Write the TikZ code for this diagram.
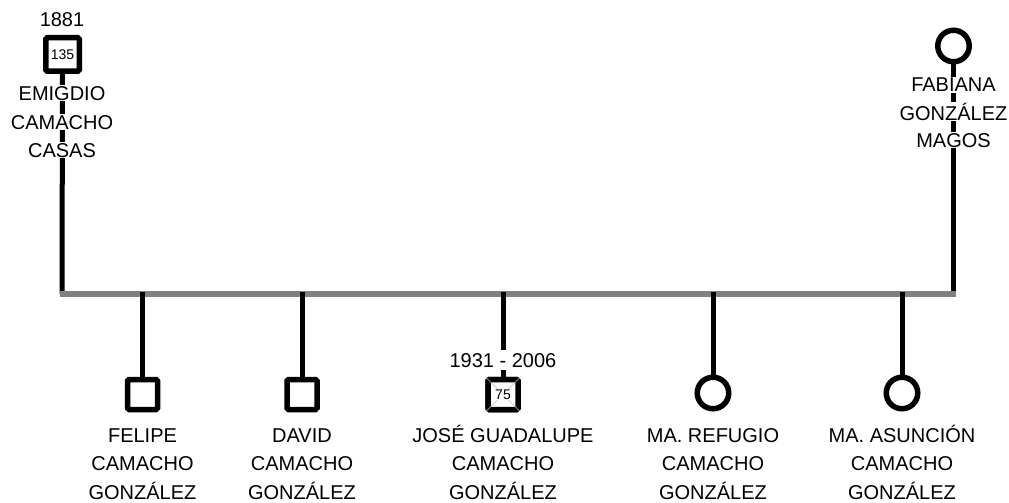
\documentclass[tikz,border=0pt]{standalone}
\usepackage{fontspec}
\setmainfont{Liberation Sans}
\begin{document}
\begin{tikzpicture}[x=1pt,y=-1pt,
    male/.style={draw,line width=5.5pt,rounded corners=1.5pt,minimum size=30pt,inner sep=0pt,fill=white},
    female/.style={draw,circle,line width=5.5pt,minimum size=31.5pt,inner sep=0pt,fill=white},
    namebox/.style={align=center,inner sep=0pt,font=\fontsize{20}{28.5}\selectfont},
    nameline/.style={fill=white,inner sep=1pt,anchor=base,font=\fontsize{20}{22}\selectfont},
    yearlbl/.style={fill=white,inner sep=3pt,anchor=base,font=\fontsize{20}{22}\selectfont},
    agelbl/.style={font=\fontsize{14}{14}\selectfont},
    link/.style={line width=5pt},
    bus/.style={line width=5.5pt,draw=gray}]
    \useasboundingbox (0,0) rectangle (1009,503);

    % parents
    \node[male,minimum size=33.5pt] (emigdio) at (62.5,54.5) {};
    \node[agelbl] at (emigdio) {135};
    \node[yearlbl] (y1881) at (62,27) {1881};
    \node[female] (fabiana) at (953.5,46) {};

    % bus line
    \coordinate (bl) at (62,294);
    \coordinate (br) at (953.5,294);
    \draw[link] (emigdio.south) -- (bl);
    \draw[link] (fabiana.south) -- ([yshift=2]br);
    \node[nameline] (emigdio1) at (62,100) {EMIGDIO};
    \node[nameline] (emigdio2) at (62,129) {CAMACHO};
    \node[nameline] (emigdio3) at (62,157) {CASAS};
    \node[nameline] (fabiana1) at (953.5,92) {FABIANA};
    \node[nameline] (fabiana2) at (953.5,120) {GONZÁLEZ};
    \node[nameline] (fabiana3) at (953.5,147) {MAGOS};
    \draw[bus] ([xshift=-2.5]bl) -- ([xshift=2.5]br);

    % children
    \node[male] (felipe) at (142.5,394.5) {};
    \node[male] (david) at (302,394.5) {};
    \node[male] (jose) at (503,394.5) {};
    \node[female] (refugio) at (713,393) {};
    \node[female] (asuncion) at (902,393) {};
    \draw[link] ([yshift=2]bl -| felipe) -- (felipe);
    \draw[link] ([yshift=2]bl -| david) -- (david);
    \draw[link] ([yshift=2]bl -| jose) -- (jose);
    \draw[link] ([yshift=2]bl -| refugio) -- (refugio);
    \draw[link] ([yshift=2]bl -| asuncion) -- (asuncion);
    \node[male] at (jose) {};
    \draw[gray!50,thin] (jose.north west) -- (jose.south east) (jose.north east) -- (jose.south west);
    \node[agelbl,fill=white,inner sep=0.5pt] at (jose) {75};
    \node[yearlbl] (y1931) at (503,367) {1931 - 2006};

    \node[namebox,anchor=base] (nfelipe) at (142.5,499) {FELIPE\\CAMACHO\\GONZÁLEZ};
    \node[namebox,anchor=base] (ndavid) at (302,499) {DAVID\\CAMACHO\\GONZÁLEZ};
    \node[namebox,anchor=base] (njose) at (503,499) {JOSÉ GUADALUPE\\CAMACHO\\GONZÁLEZ};
    \node[namebox,anchor=base] (nrefugio) at (713,499) {MA. REFUGIO\\CAMACHO\\GONZÁLEZ};
    \node[namebox,anchor=base] (nasuncion) at (902,499) {MA. ASUNCIÓN\\CAMACHO\\GONZÁLEZ};
\end{tikzpicture}
\end{document}
